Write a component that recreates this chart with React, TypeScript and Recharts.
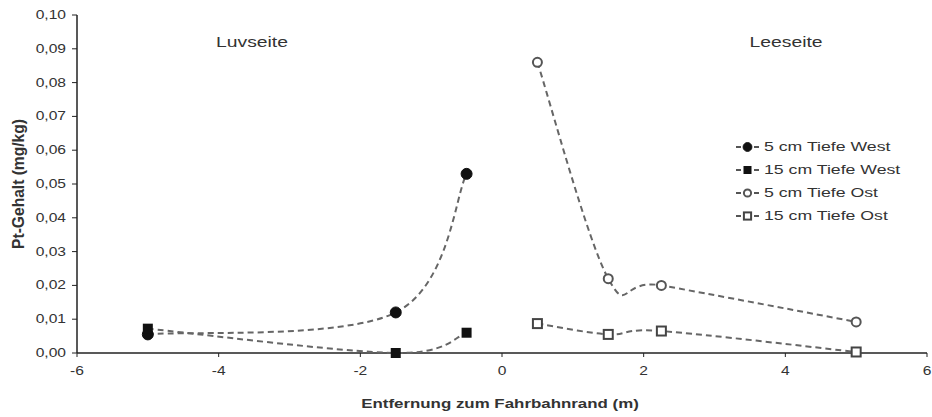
import React from 'react';
import { ScatterChart, Scatter, XAxis, YAxis, Legend, ReferenceDot, Label } from 'recharts';

const FONT = '"Liberation Sans", Arial, sans-serif';
const SX = 1.3; // the original figure is stretched sideways, so the text is too

// distances from road edge (m)
const xWest = [-5, -1.5, -0.5];
const xOst = [0.5, 1.5, 2.25, 5];

// Pt content (mg/kg)
const west5 = [0.0055, 0.012, 0.053];
const west15 = [0.0072, 0.0, 0.006];
const ost5 = [0.086, 0.022, 0.02, 0.0092];
const ost15 = [0.0087, 0.0055, 0.0065, 0.0003];

const xTicks = [-6, -4, -2, 0, 2, 4, 6];
const yTicks = [0, 0.01, 0.02, 0.03, 0.04, 0.05, 0.06, 0.07, 0.08, 0.09, 0.1];

const seriesNames = ['5 cm Tiefe West', '15 cm Tiefe West', '5 cm Tiefe Ost', '15 cm Tiefe Ost'];

const toPoints = (xs: number[], ys: number[]) => xs.map((x, i) => ({ x, y: ys[i] }));

// excel-like smoothed line (catmull-rom through the points)
const smooth = (context: any) => {
  let pts: number[][] = [];
  return {
    areaStart() {},
    areaEnd() {},
    lineStart() {
      pts = [];
    },
    lineEnd() {
      const n = pts.length;
      if (!n) return;
      context.moveTo(pts[0][0], pts[0][1]);
      for (let i = 0; i < n - 1; i++) {
        const p0 = pts[Math.max(i - 1, 0)];
        const p1 = pts[i];
        const p2 = pts[i + 1];
        const p3 = pts[Math.min(i + 2, n - 1)];
        context.bezierCurveTo(
          p1[0] + (p2[0] - p0[0]) / 6,
          p1[1] + (p2[1] - p0[1]) / 6,
          p2[0] - (p3[0] - p1[0]) / 6,
          p2[1] - (p3[1] - p1[1]) / 6,
          p2[0],
          p2[1]
        );
      }
    },
    point(x: number, y: number) {
      pts.push([+x, +y]);
    },
  };
};

const Marker = ({ cx, cy, kind, filled, size = 1 }: any) => {
  if (kind === 'circle') {
    return filled ? (
      <circle cx={cx} cy={cy} r={5.5 * size} fill="#111" stroke="#111" strokeWidth={1} />
    ) : (
      <circle cx={cx} cy={cy} r={4.5 * size} fill="#fff" stroke="#555" strokeWidth={2} />
    );
  }
  const s = (filled ? 10 : 9) * size;
  return filled ? (
    <rect x={cx - s / 2} y={cy - s / 2} width={s} height={s} fill="#111" />
  ) : (
    <rect x={cx - s / 2} y={cy - s / 2} width={s} height={s} fill="#fff" stroke="#444" strokeWidth={2} />
  );
};

const markers = [
  { kind: 'circle', filled: true },
  { kind: 'square', filled: true },
  { kind: 'circle', filled: false },
  { kind: 'square', filled: false },
];

const XTick = ({ x, y, payload }: any) => (
  <text
    transform={`translate(${x},${y + 16}) scale(${SX},1)`}
    textAnchor="middle"
    fontSize={12}
    fontFamily={FONT}
    fill="#333"
  >
    {payload.value}
  </text>
);

const YTick = ({ x, y, payload }: any) => (
  <text
    transform={`translate(${x},${y + 4}) scale(${SX},1)`}
    textAnchor="end"
    fontSize={12}
    fontFamily={FONT}
    fill="#333"
  >
    {payload.value.toFixed(2).replace('.', ',')}
  </text>
);

const XTitle = ({ viewBox }: any) => (
  <text
    transform={`translate(${viewBox.x + viewBox.width / 2 - 2},${viewBox.y + 55}) scale(${SX},1)`}
    textAnchor="middle"
    fontSize={13}
    fontWeight="bold"
    fontFamily={FONT}
    fill="#333"
  >
    Entfernung zum Fahrbahnrand (m)
  </text>
);

const YTitle = ({ viewBox }: any) => (
  <text
    transform={`translate(19,${viewBox.y + viewBox.height / 2}) rotate(-90) scale(1.2,1.25)`}
    textAnchor="middle"
    dy={4}
    fontSize={13}
    fontWeight="bold"
    fontFamily={FONT}
    fill="#333"
  >
    Pt-Gehalt (mg/kg)
  </text>
);

const SideLabel = (text: string) => ({ viewBox }: any) => (
  <text
    transform={`translate(${viewBox.x + viewBox.width / 2},${viewBox.y + viewBox.height / 2 + 5}) scale(1.38,1)`}
    textAnchor="middle"
    fontSize={14}
    fontFamily={FONT}
    fill="#333"
  >
    {text}
  </text>
);

const LegendBox = () => (
  <div style={{ fontFamily: FONT, fontSize: 13, color: '#333' }}>
    {seriesNames.map((name, i) => (
      <div key={name} style={{ display: 'flex', alignItems: 'center', height: 23 }}>
        <svg width={28} height={14}>
          <line x1={0} y1={7} x2={24} y2={7} stroke="#555" strokeWidth={2} strokeDasharray="5 4" />
          <Marker cx={11.5} cy={7} kind={markers[i].kind} filled={markers[i].filled} size={0.8} />
        </svg>
        <span style={{ display: 'inline-block', transform: 'scaleX(1.36)', transformOrigin: 'left center', whiteSpace: 'nowrap' }}>
          {name}
        </span>
      </div>
    ))}
  </div>
);

const allSeries = [
  toPoints(xWest, west5),
  toPoints(xWest, west15),
  toPoints(xOst, ost5),
  toPoints(xOst, ost15),
];

const App: React.FC = () => {
  return (
    <div style={{ position: 'absolute', left: 0, top: 0, background: '#fff' }}>
      <ScatterChart width={932} height={417} margin={{ top: 15, right: 5, bottom: 4, left: 0 }}>
        <XAxis
          type="number"
          dataKey="x"
          domain={[-6, 6]}
          ticks={xTicks}
          tick={XTick}
          tickSize={4}
          tickMargin={2}
          height={60}
          axisLine={{ stroke: '#222', strokeWidth: 1.5 }}
          tickLine={{ stroke: '#222' }}
        >
          <Label content={XTitle} />
        </XAxis>
        <YAxis
          type="number"
          dataKey="y"
          domain={[0, 0.1]}
          ticks={yTicks}
          tick={YTick}
          tickSize={5}
          tickMargin={6}
          width={77}
          axisLine={{ stroke: '#222', strokeWidth: 1.5 }}
          tickLine={{ stroke: '#222' }}
        >
          <Label content={YTitle} />
        </YAxis>
        <ReferenceDot x={-3.53} y={0.092} r={0} stroke="none" label={{ content: SideLabel('Luvseite') }} />
        <ReferenceDot x={4.01} y={0.092} r={0} stroke="none" label={{ content: SideLabel('Leeseite') }} />
        {allSeries.map((data, i) => (
          <Scatter
            key={seriesNames[i]}
            name={seriesNames[i]}
            data={data}
            line={{ stroke: '#666', strokeWidth: 2, strokeDasharray: '6 4' }}
            lineJointType={smooth as any}
            shape={(p: any) => <Marker cx={p.cx} cy={p.cy} kind={markers[i].kind} filled={markers[i].filled} />}
            isAnimationActive={false}
          />
        ))}
        <Legend
          layout="vertical"
          align="center"
          verticalAlign="middle"
          content={LegendBox}
          wrapperStyle={{ left: 736, top: 135, width: 196, height: 95 }}
        />
      </ScatterChart>
    </div>
  );
};

export default App;
